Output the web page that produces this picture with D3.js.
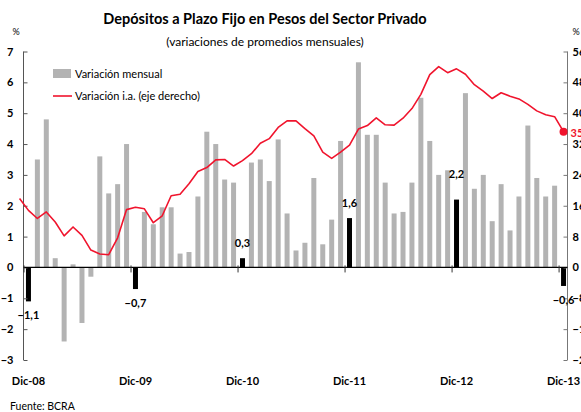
<!DOCTYPE html>
<html>
<head>
<meta charset="utf-8">
<script src="https://cdn.jsdelivr.net/npm/d3@7.9.0/dist/d3.min.js"></script>
<style>
  body { margin: 0; background: #fff; }
  svg { display: block; font-family: Lato, "Open Sans", sans-serif; }
</style>
</head>
<body>
<svg id="chart" width="581" height="412"></svg>
<script>
// months from Dic-08 to Dic-13
const monthNames = ["Dic", "Ene", "Feb", "Mar", "Abr", "May", "Jun", "Jul", "Ago", "Sep", "Oct", "Nov"];
const months = d3.range(61).map(i => monthNames[i % 12] + "-" + String(8 + Math.ceil(i / 12)).padStart(2, "0"));
const lineMonths = ["Nov-08", ...months];

// monthly change (%), left axis
const monthly = [
  -1.1, 3.5, 4.8, 0.3, -2.4, 0.1, -1.8, -0.3, 3.6, 2.4, 2.7, 4.0,
  -0.7, 1.8, 1.4, 1.95, 1.95, 0.45, 0.5, 2.3, 4.4, 4.0, 2.85, 2.75,
  0.3, 3.4, 3.5, 2.8, 4.15, 1.75, 0.55, 0.8, 2.9, 0.75, 1.55, 4.1,
  1.6, 6.65, 4.3, 4.3, 2.75, 1.75, 1.8, 2.75, 5.5, 4.1, 3.0, 3.15,
  2.2, 5.65, 2.55, 3.0, 1.5, 2.7, 1.2, 2.3, 4.6, 2.9, 2.3, 2.65,
  -0.6
];

// year-on-year change (%), right axis, starts Nov-08
const yoy = [
  17.9,
  14.8, 12.7, 14.4, 11.8, 8.2, 10.5, 8.3, 4.5, 3.5, 3.3, 7.7, 15.0,
  15.6, 15.2, 11.6, 13.4, 18.6, 19.0, 21.7, 24.9, 25.9, 27.9, 28.0, 26.3,
  27.7, 29.5, 32.2, 33.4, 36.3, 38.0, 38.0, 36.0, 34.1, 29.9, 28.3, 29.9,
  31.7, 35.9, 36.8, 38.8, 37.0, 36.9, 38.7, 41.2, 44.9, 50.0, 52.1, 50.5,
  51.5, 50.1, 47.4, 45.7, 43.8, 45.3, 44.4, 43.7, 42.3, 40.6, 39.6, 39.1,
  35.2
];

const leftTicks = [-3, -2, -1, 0, 1, 2, 3, 4, 5, 6, 7];
const rightTicks = [-24, -16, -8, 0, 8, 16, 24, 32, 40, 48, 56];

const svg = d3.select("#chart");
const fmt = v => d3.format(".1f")(v).replace(".", ",");

const x = d3.scaleBand().domain(months).range([24, 568]).paddingInner(0.44).paddingOuter(0.22);
const step = x.step();
const cx = d => x(d) + x.bandwidth() / 2;
const xLine = d3.scalePoint().domain(lineMonths).range([cx(months[0]) - step, cx(months[60])]);

const y = d3.scaleLinear().domain([-3, 7]).range([360, 51.5]);
const yR = d3.scaleLinear().domain([-24, 56]).range([360, 51.5]);

// titles
svg.append("text").attr("x", 265).attr("y", 24).attr("text-anchor", "middle")
  .attr("font-size", 14.5).attr("font-weight", "bold").attr("fill", "#000")
  .text("Depósitos a Plazo Fijo en Pesos del Sector Privado");
svg.append("text").attr("x", 265).attr("y", 46).attr("text-anchor", "middle")
  .attr("font-size", 12).attr("fill", "#000")
  .text("(variaciones de promedios mensuales)");
svg.append("text").attr("x", 16).attr("y", 35).attr("text-anchor", "middle")
  .attr("font-size", 9).text("%");
svg.append("text").attr("x", 576).attr("y", 35).attr("text-anchor", "middle")
  .attr("font-size", 9).text("%");

// bars
svg.append("g").selectAll("rect")
  .data(monthly)
  .join("rect")
  .attr("x", (d, i) => x(months[i]))
  .attr("width", x.bandwidth())
  .attr("y", d => y(Math.max(0, d)))
  .attr("height", d => Math.abs(y(d) - y(0)))
  .attr("fill", (d, i) => i % 12 === 0 ? "#000" : "#b3b3b3");

// left axis
const gL = svg.append("g").attr("transform", "translate(23.5,0)")
  .call(d3.axisRight(y).tickValues(leftTicks).tickSize(4).tickFormat(d3.format("d")));
gL.select(".domain").attr("stroke", "#555").attr("d", "M0," + y(-3) + "V" + y(7));
gL.selectAll(".tick line").attr("stroke", "#555");
gL.selectAll(".tick text").attr("x", -10).attr("text-anchor", "end")
  .attr("font-size", 11).attr("font-weight", "bold").attr("font-family", "Lato, sans-serif");

// right axis
const gR = svg.append("g").attr("transform", "translate(567.5,0)")
  .call(d3.axisLeft(yR).tickValues(rightTicks).tickSize(4).tickFormat(d3.format("d")));
gR.select(".domain").attr("stroke", "#777").attr("d", "M0," + yR(-24) + "V" + yR(56));
gR.selectAll(".tick line").attr("stroke", "#777");
gR.selectAll(".tick text").attr("x", 5).attr("text-anchor", "start")
  .attr("font-size", 11).attr("font-weight", "bold").attr("font-family", "Lato, sans-serif");

// zero line
svg.append("line").attr("x1", 23.5).attr("x2", 567.5)
  .attr("y1", y(0)).attr("y2", y(0)).attr("stroke", "#000").attr("stroke-width", 1.2);

// december ticks and labels
const decs = months.filter((m, i) => i % 12 === 0);
svg.append("g").selectAll("line")
  .data(decs)
  .join("line")
  .attr("x1", d => x(d) - (step - x.bandwidth()) / 2)
  .attr("x2", d => x(d) - (step - x.bandwidth()) / 2)
  .attr("y1", y(0) - 2).attr("y2", y(0) + 5)
  .attr("stroke", "#333");
svg.append("g").selectAll("text")
  .data(decs)
  .join("text")
  .attr("x", d => cx(d))
  .attr("y", 385)
  .attr("text-anchor", "middle")
  .attr("font-size", 11).attr("font-weight", "bold")
  .text(d => d);

// value labels on december bars
svg.append("g").selectAll("text")
  .data(decs)
  .join("text")
  .attr("x", d => cx(d))
  .attr("y", d => {
    const v = monthly[months.indexOf(d)];
    return v >= 0 ? y(v) - (v > 2 ? 22 : 11) : y(v) + 18;
  })
  .attr("text-anchor", "middle")
  .attr("font-size", 11).attr("font-weight", "bold")
  .text(d => fmt(monthly[months.indexOf(d)]));

// yoy line
const line = d3.line().x((d, i) => xLine(lineMonths[i])).y(d => yR(d));
svg.append("path").datum(yoy)
  .attr("d", line)
  .attr("fill", "none")
  .attr("stroke", "#f0142d")
  .attr("stroke-width", 1.6)
  .attr("stroke-linejoin", "round");

const last = yoy.length - 1;
svg.append("circle")
  .attr("cx", xLine(lineMonths[last])).attr("cy", yR(yoy[last]))
  .attr("r", 4).attr("fill", "#f0142d");
svg.append("text")
  .attr("x", xLine(lineMonths[last]) + 7).attr("y", yR(yoy[last]) + 5)
  .attr("font-size", 11).attr("font-weight", "bold").attr("fill", "#f0142d")
  .text(d3.format("d")(yoy[last]));

// legend
const legend = svg.append("g").attr("font-size", 11);
legend.append("rect").attr("x", 53).attr("y", 69).attr("width", 18).attr("height", 9).attr("fill", "#b3b3b3");
legend.append("text").attr("x", 75).attr("y", 78).text("Variación mensual");
legend.append("line").attr("x1", 53).attr("x2", 72).attr("y1", 96).attr("y2", 96)
  .attr("stroke", "#f0142d").attr("stroke-width", 1.6);
legend.append("text").attr("x", 75).attr("y", 100).text("Variación i.a. (eje derecho)");

// source
svg.append("text").attr("x", 10).attr("y", 410).attr("font-size", 10.5).text("Fuente: BCRA");
</script>
</body>
</html>
